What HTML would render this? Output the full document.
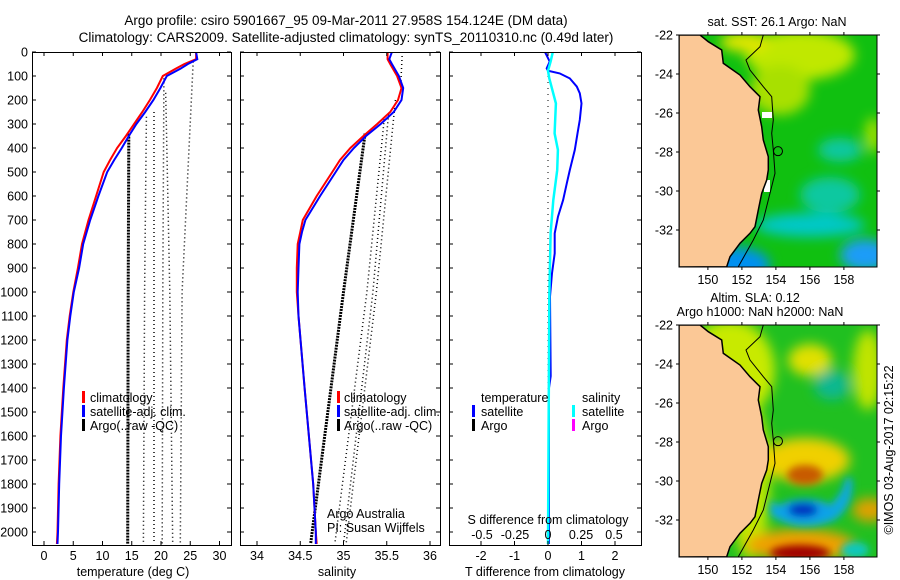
<!DOCTYPE html>
<html><head><meta charset="utf-8"><style>
html,body{margin:0;padding:0;background:#fff;}
svg{display:block;font-family:"Liberation Sans",sans-serif;}
text{font-size:12.5px;fill:#000;}
</style></head><body>
<svg id="chart" width="900" height="580" viewBox="0 0 900 580" xmlns="http://www.w3.org/2000/svg">
<defs>
<clipPath id="clipT"><rect x="32" y="52" width="199" height="493"/></clipPath>
<clipPath id="clipS"><rect x="240" y="52" width="200" height="493"/></clipPath>
<clipPath id="clipD"><rect x="449" y="52" width="192" height="493"/></clipPath>
<clipPath id="clipM1"><rect x="679" y="35" width="198" height="232"/></clipPath>
<clipPath id="clipM2"><rect x="679" y="325" width="198" height="232"/></clipPath>
<filter id="blur" x="-50%" y="-50%" width="200%" height="200%"><feGaussianBlur stdDeviation="6"/></filter>
<filter id="blur2" x="-50%" y="-50%" width="200%" height="200%"><feGaussianBlur stdDeviation="4"/></filter>
</defs>
<text x="346" y="25" text-anchor="middle" style="font-size:13.5px">Argo profile: csiro 5901667_95 09-Mar-2011 27.958S 154.124E (DM data)</text>
<text x="346" y="42" text-anchor="middle" style="font-size:13.5px">Climatology: CARS2009. Satellite-adjusted climatology: synTS_20110310.nc (0.49d later)</text>

<g id="panelT"></g>
<g id="panelS"></g>
<g id="panelD"></g>
<g id="axes"></g>

<g>
<rect x="82" y="391" width="3" height="12" fill="#f00"/><text x="90" y="402">climatology</text>
<rect x="82" y="405" width="3" height="12" fill="#00f"/><text x="90" y="416">satellite-adj. clim.</text>
<rect x="82" y="419" width="3" height="12" fill="#000"/><text x="90" y="430">Argo(..raw -QC)</text>
</g>
<g>
<rect x="337" y="391" width="3" height="12" fill="#f00"/><text x="344" y="402">climatology</text>
<rect x="337" y="405" width="3" height="12" fill="#00f"/><text x="344" y="416">satellite-adj. clim.</text>
<rect x="337" y="419" width="3" height="12" fill="#000"/><text x="344" y="430">Argo(..raw -QC)</text>
<text x="327" y="518">Argo Australia</text>
<text x="327" y="532">PI: Susan Wijffels</text>
</g>
<g>
<text x="481" y="402">temperature</text><text x="582" y="402">salinity</text>
<rect x="472" y="405" width="3" height="12" fill="#00f"/><text x="481" y="416">satellite</text>
<rect x="472" y="419" width="3" height="12" fill="#000"/><text x="481" y="430">Argo</text>
<rect x="572" y="405" width="3" height="12" fill="#0ff"/><text x="582" y="416">satellite</text>
<rect x="572" y="419" width="3" height="12" fill="#f0f"/><text x="582" y="430">Argo</text>
</g>
<text x="133" y="576" text-anchor="middle">temperature (deg C)</text>
<text x="337" y="576" text-anchor="middle">salinity</text>
<text x="548" y="524" text-anchor="middle">S difference from climatology</text>
<text x="545" y="576" text-anchor="middle">T difference from climatology</text>

<g id="map1">
<text x="777" y="26" text-anchor="middle">sat. SST: 26.1 Argo: NaN</text>
<g clip-path="url(#clipM1)">
<rect x="679" y="35" width="198" height="232" fill="#10c010"/>
<g filter="url(#blur)">
<ellipse cx="800" cy="55" rx="55" ry="25" fill="#c0e800"/>
<ellipse cx="780" cy="90" rx="30" ry="25" fill="#a8e000"/>
<ellipse cx="745" cy="42" rx="25" ry="10" fill="#e0e600"/>
<ellipse cx="873" cy="135" rx="8" ry="18" fill="#a0e000"/>
<ellipse cx="840" cy="150" rx="22" ry="12" fill="#10c8a0"/>
<ellipse cx="830" cy="195" rx="30" ry="18" fill="#10c8a0"/>
<ellipse cx="810" cy="225" rx="55" ry="12" fill="#00c8c8"/>
<ellipse cx="735" cy="265" rx="35" ry="18" fill="#0090f0"/>
<ellipse cx="865" cy="255" rx="25" ry="16" fill="#1a9cf8"/>
</g>
<rect x="762" y="112" width="10" height="6" fill="#fff"/>
<rect x="764" y="180" width="6" height="12" fill="#fff"/>
</g>
</g>
<g id="map2">
<text x="755" y="302" text-anchor="middle">Altim. SLA: 0.12</text>
<text x="760" y="316" text-anchor="middle">Argo h1000: NaN h2000: NaN</text>
<g clip-path="url(#clipM2)">
<rect x="679" y="325" width="198" height="232" fill="#20c020"/>
<g filter="url(#blur)">
<ellipse cx="730" cy="370" rx="45" ry="50" fill="#c8ea00"/>
<ellipse cx="750" cy="480" rx="20" ry="80" fill="#c0e800"/>
<ellipse cx="810" cy="360" rx="22" ry="16" fill="#e0e000"/>
<ellipse cx="868" cy="370" rx="15" ry="40" fill="#c0e400"/>
<ellipse cx="832" cy="385" rx="18" ry="15" fill="#10b890"/>
<ellipse cx="805" cy="460" rx="45" ry="22" fill="#f0d000"/>
<ellipse cx="800" cy="545" rx="55" ry="16" fill="#f0a000"/>
<ellipse cx="870" cy="510" rx="18" ry="12" fill="#e0a000"/>
</g>
<g filter="url(#blur2)">
<ellipse cx="805" cy="475" rx="18" ry="10" fill="#c85a00"/>
<path d="M770,500 Q800,520 830,505 Q845,490 845,478 L852,478 Q855,505 835,520 Q800,535 770,515 Z" fill="#10a8e0"/>
<ellipse cx="805" cy="510" rx="28" ry="11" fill="#10a0e8"/>
<ellipse cx="803" cy="510" rx="15" ry="7" fill="#0030c0"/>
<ellipse cx="800" cy="553" rx="30" ry="8" fill="#a00000"/>
<ellipse cx="855" cy="550" rx="14" ry="8" fill="#10c8c0"/>
</g>
</g>
</g>
<text transform="translate(893,450) rotate(-90)" text-anchor="middle">©IMOS 03-Aug-2017 02:15:22</text>

<script>
var tempDepths = [0,30,50,70,100,150,200,250,300,350,400,450,500,600,700,800,900,1000,1100,1200,1400,1600,1800,2000,2050];
var tempClim   = [26,26,24,22.5,20.3,19.3,18.1,16.8,15.4,14,12.5,11.3,10.2,8.9,7.6,6.5,5.8,5.0,4.4,3.9,3.3,2.8,2.5,2.3,2.2];
var tempSat    = [26,26.2,24.6,23.3,21.0,19.9,18.7,17.3,15.8,14.5,13.3,12.0,10.8,9.3,7.9,6.7,6.0,5.1,4.5,4.0,3.4,2.9,2.6,2.4,2.3];
var argoTempDepths = [[340,1000,2050],[270,1000,2050],[250,1000,2050],[110,1000,2050],[170,1000,2050],[40,1000,2050]];
var argoTempVals   = [[14.5,14.4,14.3],[17.5,17.2,17.0],[18.8,18.8,18.8],[20.5,20.3,20.2],[20.8,21.5,22.0],[25.5,23.6,23.3]];
var salDepths = [0,30,50,100,150,200,250,300,350,400,450,500,600,700,750,800,900,1000,1100,1400,1600,1800,2000,2050];
var salClim   = [35.51,35.51,35.54,35.62,35.67,35.63,35.54,35.39,35.23,35.08,34.96,34.87,34.69,34.53,34.5,34.47,34.46,34.46,34.48,34.55,34.6,34.65,34.68,34.69];
var salSat    = [35.56,35.53,35.56,35.64,35.69,35.67,35.58,35.43,35.26,35.12,35.0,34.91,34.73,34.56,34.52,34.49,34.48,34.47,34.48,34.55,34.6,34.65,34.68,34.68];
var argoSalDepths = [[340,1000,2050],[280,1000,2050],[260,1000,2050],[200,1000,2050],[0,150]];
var argoSalVals   = [[35.25,35.0,34.62],[35.47,35.27,34.9],[35.52,35.34,35.0],[35.6,35.38,35.03],[35.68,35.66]];
var dTDepths = [0,40,68,78,89,110,144,172,214,283,339,408,492,547,617,686,756,839,922,1019,1350,1400,2050];
var dTVals   = [-0.09,0.05,-0.04,0,0.35,0.65,0.86,0.95,1.0,0.95,0.88,0.8,0.65,0.56,0.45,0.3,0.2,0.2,0.12,0.06,0.08,0.03,0.03];
var dSDepths = [0,40,78,110,214,339,408,492,617,756,1019,2050];
var dSVals   = [0.036,0.02,0,0.01,0.06,0.05,0.075,0.07,0.04,0.02,0.01,0.0];
var depthTicks = [0,100,200,300,400,500,600,700,800,900,1000,1100,1200,1300,1400,1500,1600,1700,1800,1900,2000];
var tempTicks = [0,5,10,15,20,25,30];
var salTicks = [34,34.5,35,35.5,36];
var salTickLabels = ["34","34.5","35","35.5","36"];
var dTTicks = [-2,-1,0,1,2];
var dSTicks = [-0.5,-0.25,0,0.25,0.5];
var dSTickLabels = ["-0.5","-0.25","0","0.25","0.5"];
var mapLonTicks = [150,152,154,156,158];
var mapLatTicks = [-22,-24,-26,-28,-30,-32];
var argoLon = 154.124, argoLat = -27.958;

var NS="http://www.w3.org/2000/svg";
function yD(d){return 52+d*0.24;}
function xT(t){return 44+t*5.85;}
function xS(s){return 257+(s-34)*86.5;}
function xDT(v){return 548+v*33.5;}
function xDS(v){return 548+v*132;}
function mx(lon){return 679+(lon-148.3)*17;}
function my(lat){return 35+(-22-lat)*19.5;}
function mk(tag,attrs,parent){var e=document.createElementNS(NS,tag);for(var k in attrs)e.setAttribute(k,attrs[k]);parent.appendChild(e);return e;}
function pts(ds,vs,fx){return ds.map(function(d,i){return fx(vs[i]).toFixed(1)+","+yD(d).toFixed(1);}).join(" ");}

var PT=document.getElementById('panelT'),PS=document.getElementById('panelS'),PD=document.getElementById('panelD'),AX=document.getElementById('axes');
PT.setAttribute('clip-path','url(#clipT)');PS.setAttribute('clip-path','url(#clipS)');PD.setAttribute('clip-path','url(#clipD)');

argoTempDepths.forEach(function(ds,i){
  var l=mk('polyline',{points:pts(ds,argoTempVals[i],xT),fill:'none',stroke:'#000','stroke-width':i==0?3:1.5,'stroke-dasharray':i==0?'2 1':'1 3'},PT);
  
  
});
var l1=mk('polyline',{points:pts(tempDepths,tempClim,xT),fill:'none',stroke:'#f00','stroke-width':2},PT);


var l2=mk('polyline',{points:pts(tempDepths,tempSat,xT),fill:'none',stroke:'#00f','stroke-width':2},PT);



argoSalDepths.forEach(function(ds,i){
  var l=mk('polyline',{points:pts(ds,argoSalVals[i],xS),fill:'none',stroke:'#000','stroke-width':i==0?3:1.5,'stroke-dasharray':i==0?'2 1':'1 3'},PS);
  
  
});
var l3=mk('polyline',{points:pts(salDepths,salClim,xS),fill:'none',stroke:'#f00','stroke-width':2},PS);


var l4=mk('polyline',{points:pts(salDepths,salSat,xS),fill:'none',stroke:'#00f','stroke-width':2},PS);



var z=mk('line',{x1:xDT(0),x2:xDT(0),y1:52,y2:545,stroke:'#000','stroke-width':1,'stroke-dasharray':'1 5'},PD);


var l5=mk('polyline',{points:pts(dTDepths,dTVals,xDT),fill:'none',stroke:'#00f','stroke-width':2},PD);


var l6=mk('polyline',{points:pts(dSDepths,dSVals,xDS),fill:'none',stroke:'#0ff','stroke-width':2.5},PD);



[[32,231],[240,440],[449,641]].forEach(function(p){
  var r=mk('rect',{x:p[0]+0.5,y:52.5,width:p[1]-p[0],height:493,fill:'none',stroke:'#000','stroke-width':1},AX);
  
  
  depthTicks.forEach(function(d){
    mk('line',{x1:p[0],x2:p[0]+4,y1:yD(d),y2:yD(d),stroke:'#000'},AX);
    mk('line',{x1:p[1]-4,x2:p[1],y1:yD(d),y2:yD(d),stroke:'#000'},AX);
  });
});
depthTicks.forEach(function(d){
  var t=mk('text',{x:28,y:yD(d)+4.5,'text-anchor':'end'},AX);t.textContent=d;
  
  
});
function xTicks(vals,labels,fx,ly){
  vals.forEach(function(v,i){
    var x=fx(v);
    mk('line',{x1:x,x2:x,y1:52,y2:56,stroke:'#000'},AX);
    mk('line',{x1:x,x2:x,y1:541,y2:545,stroke:'#000'},AX);
    var t=mk('text',{x:x,y:ly,'text-anchor':'middle'},AX);t.textContent=labels[i];
    
    
  });
}
xTicks(tempTicks,tempTicks.map(String),xT,560);
xTicks(salTicks,salTickLabels,xS,560);
xTicks(dTTicks,dTTicks.map(String),xDT,560);
dSTicks.forEach(function(v,i){
  var t=mk('text',{x:xDS(v),y:539,'text-anchor':'middle'},AX);t.textContent=dSTickLabels[i];
  
  
});

var coast=[[180,105],[205,125],[245,150],[250,190],[300,225],[330,260],[360,290],[355,330],[365,380],[370,420],[385,470],[385,510],[380,540],[365,580],[355,630],[345,680],[330,700],[300,730],[270,770],[260,800]];
var shelf=[[370,105],[360,140],[318,180],[330,210],[370,260],[395,290],[400,360],[395,400],[400,450],[405,520],[385,600],[370,660],[340,720],[295,800]];
function mapOverlay(id,off){
  var g=document.getElementById(id);
  var cg=mk('g',{'clip-path':'url(#clipM'+(off?2:1)+')'},g);
  var land=coast.map(function(p){return (640+p[0]/3).toFixed(1)+","+(p[1]/3+off).toFixed(1);});
  land.push("679,"+(267+off));land.push("679,"+(35+off));
  var lp=mk('polygon',{points:land.join(" "),fill:'#fbc896',stroke:'#000','stroke-width':1.5},cg);
  
  
  var sp=mk('polyline',{points:shelf.map(function(p){return (640+p[0]/3).toFixed(1)+","+(p[1]/3+off).toFixed(1);}).join(" "),fill:'none',stroke:'#000','stroke-width':1},cg);
  
  
  var c=mk('circle',{cx:mx(argoLon),cy:my(argoLat)+off,r:4.5,fill:'none',stroke:'#000','stroke-width':1},g);
  
  
  var fr=mk('rect',{x:679,y:35+off,width:198,height:232,fill:'none',stroke:'#000','stroke-width':1},g);
  
  
  mapLonTicks.forEach(function(lon){
    var x=mx(lon);
    mk('line',{x1:x,x2:x,y1:35+off-3,y2:35+off,stroke:'#000'},g);
    mk('line',{x1:x,x2:x,y1:267+off,y2:270+off,stroke:'#000'},g);
    var t=mk('text',{x:x,y:284+off,'text-anchor':'middle'},g);t.textContent=lon;
    
    
  });
  mapLatTicks.forEach(function(lat){
    var y=my(lat)+off;
    mk('line',{x1:676,x2:679,y1:y,y2:y,stroke:'#000'},g);
    mk('line',{x1:877,x2:880,y1:y,y2:y,stroke:'#000'},g);
    var t=mk('text',{x:673,y:y+4.5,'text-anchor':'end'},g);t.textContent=lat;
    
    
  });
}
mapOverlay('map1',0);
mapOverlay('map2',290);
</script>
</svg>
</body></html>
